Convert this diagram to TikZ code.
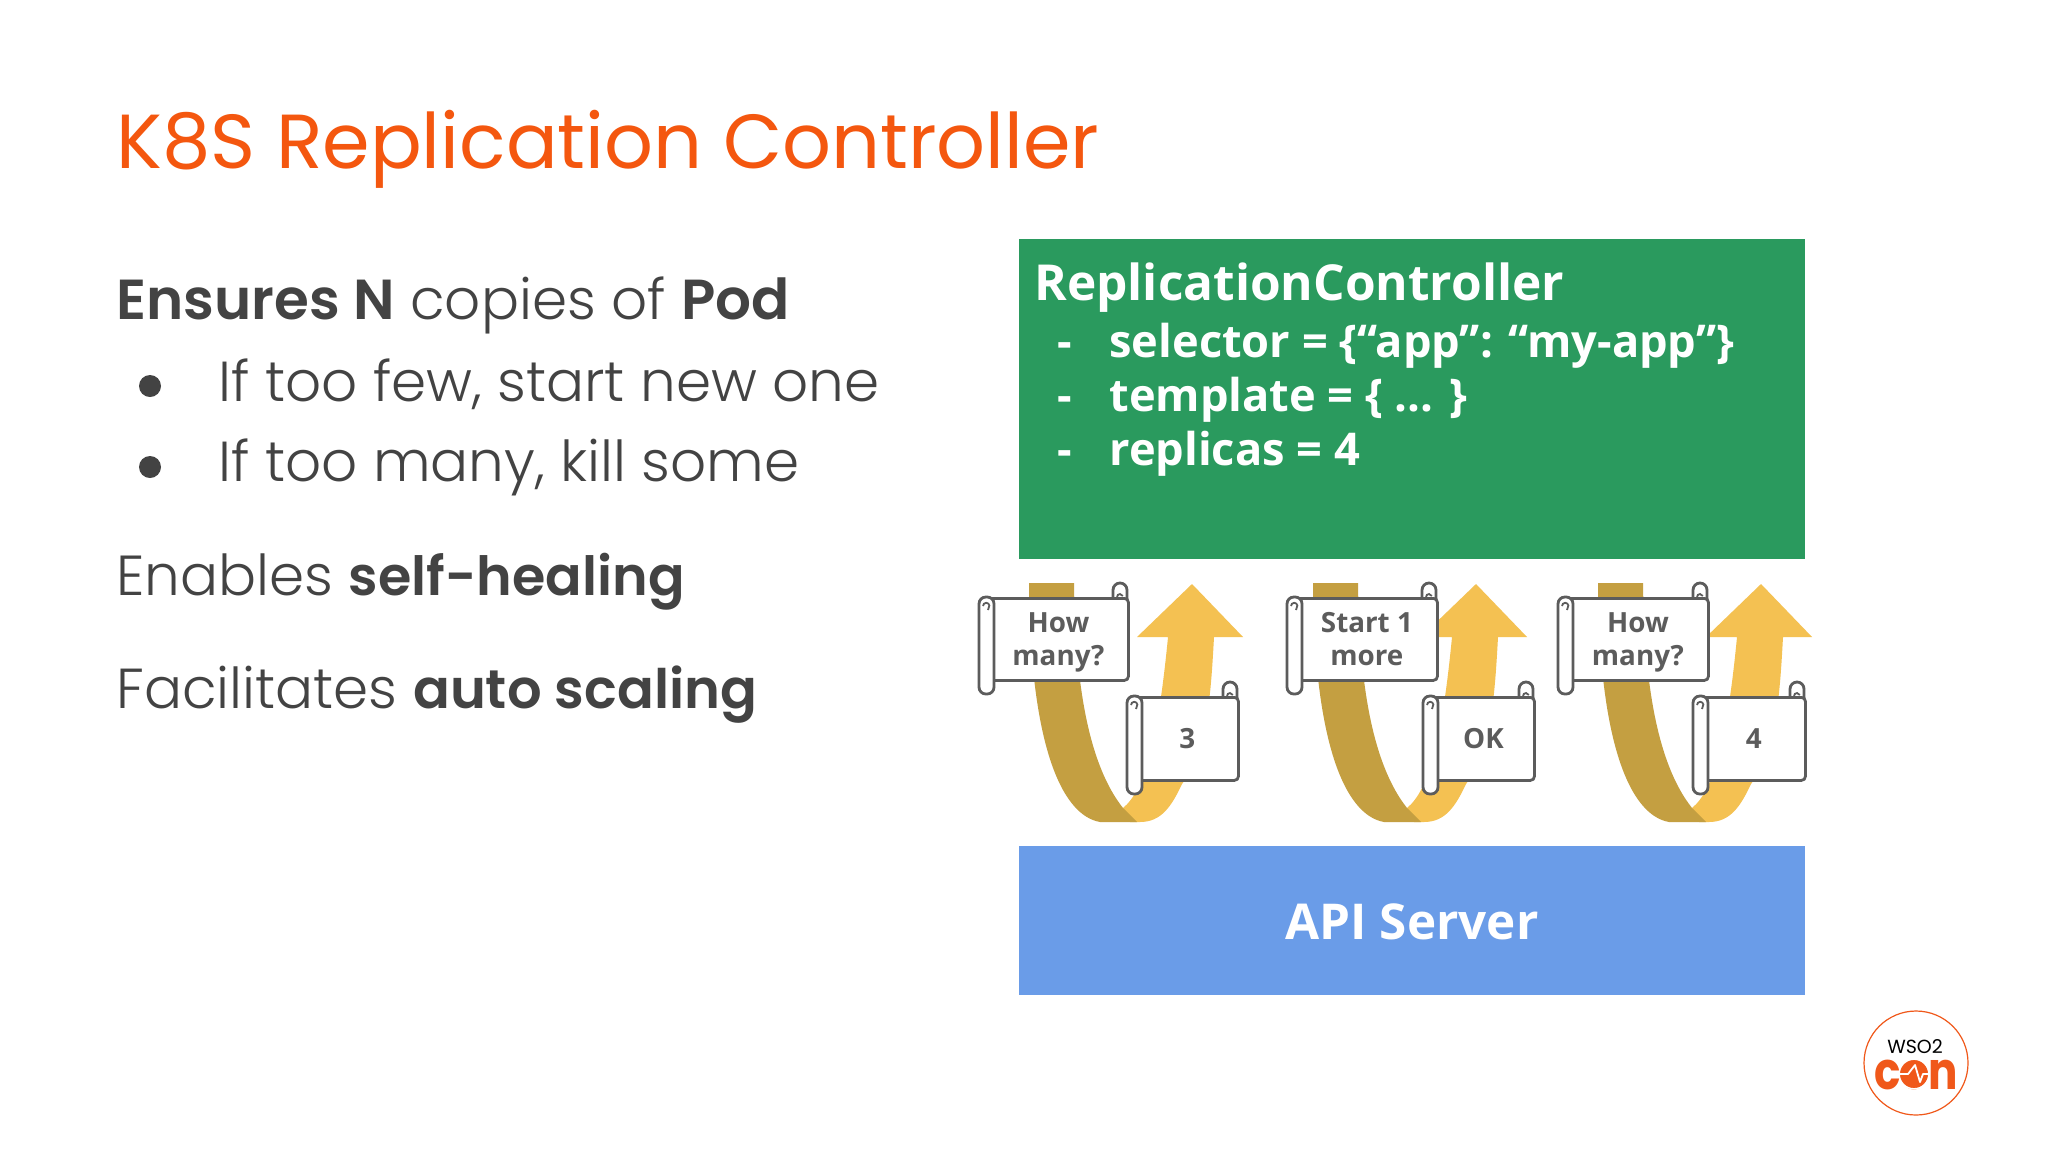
\documentclass[tikz,border=0pt]{standalone}
\usepackage{fontspec}
\setmainfont{Poppins Light}[BoldFont=Poppins SemiBold]
\newfontfamily\titlef{Poppins}
\newfontfamily\diagf{Open Sans}
\newfontfamily\logof{Poppins}
\newcommand{\bbtext}[2]{{\fontsize{#1}{36}\selectfont\bfseries #2}}
\newcommand{\tallline}{\rule{0pt}{14.5pt}}
\definecolor{titleor}{HTML}{F4570F}
\definecolor{bodyg}{HTML}{434343}
\definecolor{greenb}{HTML}{2A9A5E}
\definecolor{blueb}{HTML}{6A9CE8}
\definecolor{golddk}{HTML}{C49F41}
\definecolor{goldlt}{HTML}{F4C152}
\definecolor{scrollg}{HTML}{5C5C5C}
\definecolor{logoor}{HTML}{F0581A}
\tikzset{
  body/.style={anchor=base west,text=bodyg,inner sep=0pt,font=\fontsize{28.2}{36}\selectfont},
  dtext/.style={anchor=base west,text=white,inner sep=0pt,font=\diagf\bfseries\fontsize{22.6}{26}\selectfont},
  scrollbody/.style={anchor=north west,draw=scrollg,fill=white,line width=1.4pt,rounded corners=2pt,align=center,inner sep=0pt,text=scrollg,font=\diagf\bfseries\fontsize{13.9}{16.5}\selectfont},
  scrollline/.style={draw=scrollg,fill=white,line width=1.4pt},
}
% #1 x, #2 y, #3 w, #4 h, #5 name, #6 text
\newcommand{\scrollfig}[6]{%
\begin{scope}[shift={(#1,#2)}]
  \draw[scrollline] (#3-14,4) -- (#3-14,-7) arc[start angle=180,end angle=0,radius=3.5pt] -- (#3,4) -- cycle;
  \draw[draw=scrollg,line width=.9pt] (#3-10,0) arc[start angle=180,end angle=20,radius=1.5pt];
  \node[scrollbody,minimum width={(#3-8)*0.5pt},minimum height={#4*0.5pt}] (#5) at (8,0) {#6};
  \draw[scrollline,rounded corners=3.4pt] (0,0) rectangle (15,#4+15);
  \draw[draw=scrollg,line width=.9pt] (4,9) arc[start angle=180,end angle=10,radius=1.6pt] -- (9,13);
\end{scope}}
\newcommand{\goldarrow}[1]{%
\begin{scope}[shift={(#1,0)}]
  \fill[goldlt] (1192,584) -- (1243,637) -- (1214,637) .. controls (1211,690) and (1208,750) .. (1182,784) .. controls (1172,805) and (1162,822) .. (1140,822) -- (1130,822) -- (1123,808) .. controls (1145,790) and (1158,740) .. (1168,637) -- (1137,637) -- cycle;
  \fill[golddk] (1029,583) -- (1074,583) .. controls (1075,670) and (1085,760) .. (1123,808) -- (1137,822) -- (1100,822) .. controls (1060,815) and (1030,740) .. (1029,583) -- cycle;
\end{scope}}
\begin{document}
\begin{tikzpicture}[x=0.5pt,y=-0.5pt]
\useasboundingbox (0,0) rectangle (2048,1152);
\fill[white] (0,0) rectangle (2048,1152);
% title
\node[anchor=base west,inner sep=0pt,text=titleor,font=\titlef\fontsize{38.3}{44}\selectfont] (title) at (116,168) {K8S Replication Controller};
% left text
\node[body] (l1) at (116,319) {\bbtext{28.2}{Ensures N} copies of \bbtext{28.2}{Pod}};
\node[body] (l2) at (218,401) {If too few, start new one};
\node[body] (l3) at (218,481) {If too many, kill some};
\node[body] (l4) at (116,595) {Enables \bbtext{27}{self-healing}};
\node[body] (l5) at (116,708) {Facilitates \bbtext{27.2}{auto scaling}};
\fill[bodyg] (150,386) circle[radius=5.5pt];
\fill[bodyg] (150,467) circle[radius=5.5pt];
% panels
\fill[greenb] (1019,239) rectangle (1805,559);
\fill[blueb] (1019,846) rectangle (1805,995);
\node[dtext,font=\diagf\bfseries\fontsize{24.8}{30}\selectfont] (rc) at (1034,300) {ReplicationController};
\node[dtext] (d1) at (1057,357) {-};
\node[dtext] (d2) at (1057,411) {-};
\node[dtext] (d3) at (1057,465) {-};
\node[dtext] (s1) at (1109,357) {selector = \{“app”: “my-app”\}};
\node[dtext] (s2) at (1109,411) {template = \{ ... \}};
\node[dtext] (s3) at (1109,465) {replicas = 4};
\node[anchor=center,text=white,inner sep=0pt,font=\diagf\bfseries\fontsize{24.7}{28}\selectfont] (api) at (1412,922) {API Server};
% arrows
\goldarrow{0}
\goldarrow{284}
\goldarrow{569}
% scrolls
\scrollfig{979}{597}{148}{82}{q1}{\tallline How\\\strut many?}
\scrollfig{1127}{696}{110}{83}{a1}{3}
\scrollfig{1287}{597}{149}{82}{q2}{\tallline Start 1\\\strut more}
\scrollfig{1423}{696}{110}{83}{a2}{OK}
\scrollfig{1558}{597}{149}{82}{q3}{\tallline How\\\strut many?}
\scrollfig{1693}{696}{111}{83}{a3}{4}
% logo
\draw[logoor,line width=.6pt] (1916,1063) circle[radius=26pt];
\node[inner sep=0pt,text=black,font=\logof\fontsize{9.5}{11}\selectfont] (wso) at (1915,1047) {WSO2};
\node[anchor=base,inner sep=0pt,text height=8pt,text=logoor,font=\logof\bfseries\fontsize{26}{30}\selectfont] (con) at (1916,1089) {\scalebox{.84}[1]{con}};
\draw[white,line width=.7pt,fill=logoor] (1914,1074) circle[radius=7.4pt];
\draw[white,line width=.9pt,line join=round] (1899,1074) -- (1908,1074) -- (1915,1065) -- (1920,1082) -- (1923,1074) -- (1929,1074);
\end{tikzpicture}
\end{document}
